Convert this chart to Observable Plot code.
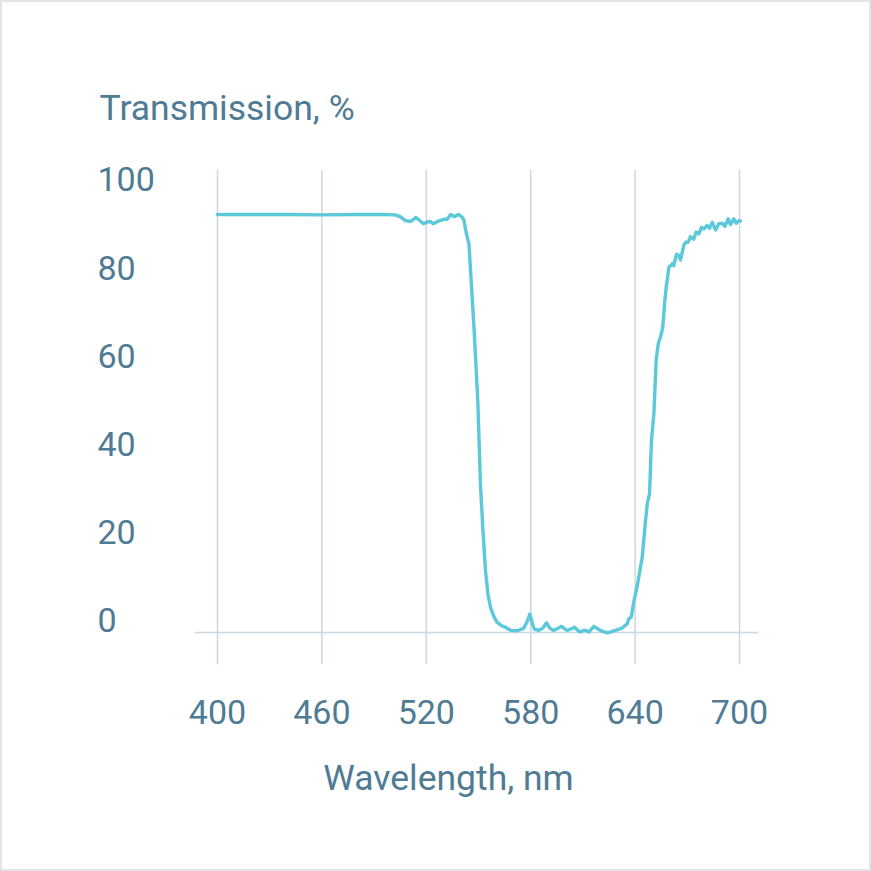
<!DOCTYPE html>
<html>
<head>
<meta charset="utf-8">
<script src="https://cdn.jsdelivr.net/npm/d3@7"></script>
<script src="https://cdn.jsdelivr.net/npm/@observablehq/plot@0.6"></script>
<style>
  html, body { margin: 0; padding: 0; background: #fff; }
  #chart svg { display: block; outline: 2px solid #e4e4e4; outline-offset: -2px; }
</style>
</head>
<body>
<div id="chart"></div>
<script>
const wavelength = [
  400, 420, 440, 460, 480, 495, 502, 505, 508, 511, 514, 516, 518.4, 520.5, 522.4, 524, 527, 530, 532, 534, 536, 538.5, 540.6,
  541.6, 543, 544.5, 547.4, 549.6, 551.1, 552.5, 554, 555.5, 556.9, 559, 560.7, 563, 565.5, 568.4, 571, 573.2, 576, 578,
  579.5, 581, 582, 584.7, 587, 589.1, 591, 593, 595.5, 597.7, 600, 601, 603, 605.2, 607, 608.6, 610, 611.5, 613.4, 616.3,
  619.2, 621, 624, 626.5, 628.7, 632.6, 634.5, 635.5, 636.4, 637.8, 639.3, 641.2, 644.1, 646, 647, 648.3, 649.4, 650.8,
  652.1, 653.3, 654.6, 655.9, 657.1, 657.9, 659.4, 661.3, 662.2, 663.8, 665.1, 666.1, 668, 669, 670.5, 671.8, 673.7, 675.1,
  676.6, 678.2, 679.5, 681.4, 682.8, 684.3, 686.2, 688.1, 690.1, 691.6, 693.5, 694.8, 696.7, 698.1, 699.6, 700.6
];
const transmission = [
  92.3, 92.3, 92.3, 92.2, 92.3, 92.3, 92.2, 91.8, 90.9, 90.7, 91.6, 91.0, 90.2, 90.6, 90.7, 90.2, 90.8, 91.2, 91.2, 92.3, 91.8, 92.3, 91.7,
  91.0, 88.0, 85.7, 66.7, 50.1, 31.3, 21.0, 11.6, 6.0, 3.2, 1.0, -0.2, -0.9, -1.3, -2.0, -2.1, -2.0, -1.5, 0.0,
  1.7, -0.5, -1.7, -2.0, -1.5, -0.3, -1.5, -2.0, -1.6, -1.1, -1.8, -2.0, -1.7, -1.3, -2.0, -2.4, -2.1, -2.0, -2.4, -1.1,
  -1.8, -2.2, -2.6, -2.3, -2.0, -1.5, -0.8, -0.5, 0.6, 1.0, 4.5, 8.0, 14.6, 22.9, 26.7, 29.0, 41.0, 47.1,
  59.2, 63.0, 64.5, 66.7, 72.8, 75.8, 80.3, 81.1, 80.7, 83.3, 83.0, 82.0, 85.3, 86.0, 86.0, 87.3, 86.7, 88.3,
  87.9, 89.4, 89.0, 89.8, 89.2, 90.5, 88.8, 90.2, 90.3, 89.6, 91.3, 90.0, 91.3, 90.3, 90.9, 90.8
];
const xTicks = [400, 460, 520, 580, 640, 700];
const yTicks = [0, 20, 40, 60, 80, 100];
const yTitle = "Transmission, %";
const xTitle = "Wavelength, nm";

const data = wavelength.map((w, i) => ({w, t: transmission[i]}));

const textColor = "#4f7b94";
const gridColor = "#c9d8e1";
const lineColor = "#5bc9d9";
const font = "Roboto, 'Noto Sans', sans-serif";

const chart = Plot.plot({
  width: 871,
  height: 871,
  marginLeft: 217,
  marginRight: 132,
  marginTop: 180,
  marginBottom: 250,
  style: {fontFamily: font, background: "white"},
  x: {domain: [400, 700], axis: null},
  y: {domain: [0, 100], axis: null},
  marks: [
    Plot.ruleX(xTicks, {x: d => d, y1: 102.3, y2: -9.8, stroke: gridColor, strokeWidth: 1.5}),
    Plot.ruleY([-2.5], {x1: 387.4, x2: 711, stroke: gridColor, strokeWidth: 1.5}),
    Plot.line(data, {x: "w", y: "t", stroke: lineColor, strokeWidth: 3.4, curve: "linear", strokeLinejoin: "round"}),
    Plot.text(yTicks, {y: d => d, text: d => String(d), frameAnchor: "left", textAnchor: "start", dx: -120, lineAnchor: "middle", fill: textColor, fontSize: 34}),
    Plot.text(xTicks, {x: d => d, text: d => String(d), frameAnchor: "bottom", textAnchor: "middle", dy: 91.5, lineAnchor: "middle", fill: textColor, fontSize: 34}),
    Plot.text([yTitle], {text: d => d, frameAnchor: "top-left", textAnchor: "start", dx: -118, dy: -61, lineAnchor: "bottom", fill: textColor, fontSize: 35.5}),
    Plot.text([xTitle], {text: d => d, frameAnchor: "bottom-left", textAnchor: "middle", dx: 231, dy: 168, lineAnchor: "bottom", fill: textColor, fontSize: 35.5})
  ]
});
document.getElementById("chart").appendChild(chart);
</script>
</body>
</html>
